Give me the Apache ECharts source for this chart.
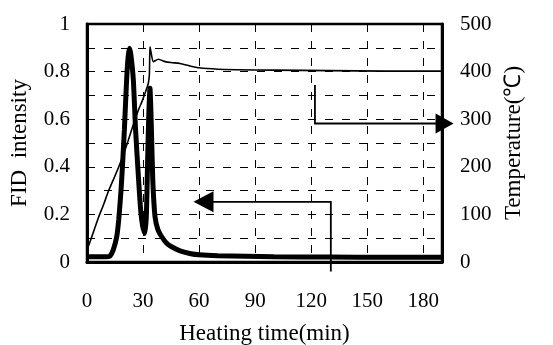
<!DOCTYPE html>
<html>
<head>
<meta charset="utf-8">
<script src="https://cdn.jsdelivr.net/npm/echarts@6/dist/echarts.min.js"></script>
<style>html,body{margin:0;padding:0;background:#fff;}#c{width:553px;height:345px;}</style>
</head>
<body>
<div id="c"></div>
<script>
// ---- data ----
const fidTime  = [0, 5, 10, 12.3, 14, 15.9, 17, 18.2, 19.1, 20, 21.2, 22, 22.7, 23.5, 24.8, 26, 27.5, 28.7, 29.8, 31, 31.8, 32.4, 33, 33.7, 34.4, 35.2, 36.4, 38, 40, 42.5, 45.3, 49.8, 55, 60, 70, 85, 100, 130, 160, 190];
const fidValue = [0.022, 0.022, 0.022, 0.025, 0.05, 0.106, 0.18, 0.30, 0.42, 0.555, 0.765, 0.86, 0.898, 0.87, 0.765, 0.555, 0.36, 0.22, 0.15, 0.12, 0.2, 0.41, 0.6, 0.73, 0.58, 0.345, 0.19, 0.135, 0.106, 0.08, 0.064, 0.047, 0.036, 0.03, 0.026, 0.024, 0.022, 0.021, 0.02, 0.02];
const tempTime  = [0, 3, 6, 9, 11.4, 14, 16.8, 19.5, 22.1, 25, 27.5, 29.5, 31, 32.8, 33.4, 33.7, 34.3, 35.5, 38.2, 41.8, 45, 49.8, 55, 60, 70, 80, 100, 130, 160, 190];
const tempValue = [25, 58, 92, 122, 148, 172, 198, 226, 256, 291, 319, 338, 354, 375, 395, 452, 440, 421, 426, 421, 419, 417, 412, 408, 405, 404, 403, 402, 401, 401];
const xTickLabels = ['0', '30', '60', '90', '120', '150', '180'];
const leftTickLabels = ['0', '0.2', '0.4', '0.6', '0.8', '1'];
const rightTickLabels = ['0', '100', '200', '300', '400', '500'];
const xTitle = 'Heating time(min)';
const leftTitle = 'FID  intensity';
const rightTitle = 'Temperature(℃)';

const FONT = "'Liberation Serif', 'Times New Roman', serif";
const lab = {fontFamily: FONT, fontSize: 21, color: '#000'};
const ttl = {fontFamily: FONT, fontSize: 23, color: '#000'};

const chart = echarts.init(document.getElementById('c'), null, {renderer: 'canvas'});

const option = {
  animation: false,
  backgroundColor: '#fff',
  grid: {left: 87, right: 111, top: 24, bottom: 83, containLabel: false, outerBoundsMode: 'none',
         show: true, borderColor: '#000', borderWidth: 2.5, backgroundColor: 'transparent'},
  xAxis: {
    type: 'value', min: 0, max: 190, interval: 30,
    name: xTitle, nameLocation: 'middle', nameGap: 60, nameTextStyle: ttl,
    axisLine: {show: true, onZero: false, lineStyle: {color: '#000', width: 3}},
    axisTick: {show: false},
    axisLabel: Object.assign({margin: 29, showMaxLabel: true, showMinLabel: true,
      formatter: v => (v % 30 === 0 ? (xTickLabels[v / 30] || '') : '')}, lab),
    splitLine: {show: true, lineStyle: {color: '#000', width: 1, type: [8, 9]}}
  },
  yAxis: [
    {
      type: 'value', min: 0, max: 1, interval: 0.1, position: 'left',
      name: leftTitle, nameLocation: 'middle', nameGap: 56, nameRotate: 90, nameTextStyle: ttl,
      axisLine: {show: true, lineStyle: {color: '#000', width: 3}},
      axisTick: {show: false},
      axisLabel: Object.assign({margin: 17, showMaxLabel: true, showMinLabel: true,
        formatter: v => { const k = Math.round(v * 10); return k % 2 === 0 ? (leftTickLabels[k / 2] || '') : ''; }}, lab),
      splitLine: {show: true, lineStyle: {color: '#000', width: 1, type: [8, 9]}}
    },
    {
      type: 'value', min: 0, max: 500, interval: 100, position: 'right',
      name: rightTitle, nameLocation: 'middle', nameGap: 60, nameRotate: 90, nameTextStyle: ttl,
      axisLine: {show: true, lineStyle: {color: '#000', width: 3}},
      axisTick: {show: false},
      axisLabel: Object.assign({margin: 18, showMaxLabel: true, showMinLabel: true,
        formatter: v => (rightTickLabels[Math.round(v / 100)] || '')}, lab),
      splitLine: {show: false}
    }
  ],
  series: [
    {
      name: 'FID', type: 'line', yAxisIndex: 0, symbol: 'none', smooth: 0.2,
      lineStyle: {color: '#000', width: 5}, z: 3,
      data: fidTime.map((t, i) => [t, fidValue[i]])
    },
    {
      name: 'Temperature', type: 'line', yAxisIndex: 1, symbol: 'none', smooth: 0.2,
      lineStyle: {color: '#000', width: 1.6}, z: 4,
      data: tempTime.map((t, i) => [t, tempValue[i]])
    }
  ]
};
chart.setOption(option);

// annotation arrows placed in data coordinates
const p = (x, y, yi) => chart.convertToPixel({xAxisIndex: 0, yAxisIndex: yi}, [x, y]);
const A = p(130.5, -0.04, 0), B = p(130.5, 0.253, 0), C = p(57, 0.253, 0);
const D = p(122, 0.744, 0), E = p(122, 291, 1), F = p(196.2, 291, 1);
const ls = {stroke: '#000', lineWidth: 1.8, fill: null};
chart.setOption({
  graphic: [
    {type: 'polyline', z: 100, shape: {points: [A, B, [C[0] + 18, C[1]]]}, style: ls},
    {type: 'polygon', z: 100, shape: {points: [[C[0], C[1]], [C[0] + 20, C[1] - 10.5], [C[0] + 20, C[1] + 10.5]]}, style: {fill: '#000'}},
    {type: 'polyline', z: 100, shape: {points: [D, E, [F[0] - 16, F[1]]]}, style: ls},
    {type: 'polygon', z: 100, shape: {points: [[F[0], F[1]], [F[0] - 18, F[1] - 10], [F[0] - 18, F[1] + 10]]}, style: {fill: '#000'}}
  ]
});
</script>
</body>
</html>
